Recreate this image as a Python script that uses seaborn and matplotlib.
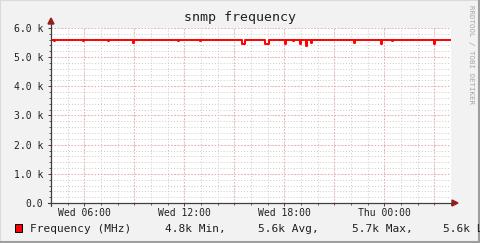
import matplotlib
matplotlib.use("Agg")
import matplotlib.pyplot as plt
from matplotlib.lines import Line2D
from matplotlib.patches import Polygon, Rectangle
import numpy as np
import pandas as pd
import seaborn as sns

# ---------------- data ----------------
title = "snmp frequency"
series_label = "Frequency (MHz)"
base_value = 5580.0                      # normal level (MHz)
# dips: start hour (from Wed 04:00), end hour, value during dip
dip_start = [0.19, 1.93, 3.42, 4.90, 7.60, 8.93, 11.45, 12.84, 14.04, 14.49, 14.94, 15.30, 15.60, 18.16, 19.78, 20.49, 22.96]
dip_end   = [0.23, 1.97, 3.50, 5.00, 7.68, 8.97, 11.62, 13.06, 14.12, 14.55, 15.02, 15.38, 15.68, 18.24, 19.86, 20.55, 23.04]
dip_value = [5550, 5550, 5545, 5480, 5545, 5555, 5450, 5445, 5445, 5555, 5445, 5390, 5480, 5480, 5445, 5555, 5445]
y_ticks = [0, 1000, 2000, 3000, 4000, 5000, 6000]
y_tick_labels = ["0.0", "1.0 k", "2.0 k", "3.0 k", "4.0 k", "5.0 k", "6.0 k"]
x_ticks = [2, 8, 14, 20]                 # hours from Wed 04:00
x_tick_labels = ["Wed 06:00", "Wed 12:00", "Wed 18:00", "Thu 00:00"]
stats_text = ["4.8k Min,", "5.6k Avg,", "5.7k Max,", "5.6k Last"]
total_hours = 24.0

# build step series from listed breakpoints
t = [0.0]
v = [base_value]
for s, e, d in zip(dip_start, dip_end, dip_value):
    t += [s, e]
    v += [d, base_value]
t.append(total_hours)
v.append(base_value)
df = pd.DataFrame({"hour": t, "value": v})

# ---------------- figure ----------------
W, H = 481, 243
BACK = "#F2F2F2"
fig = plt.figure(figsize=(W / 100, H / 100), dpi=100, facecolor=BACK)
sns.set_style("white")
MONO = ["DejaVu Sans Mono"]

def fx(x):
    return x / W

def fy(y):
    return 1 - y / H

L, R, T, B = 51, 451, 28, 203
ax = fig.add_axes([fx(L), fy(B), (R - L) / W, (B - T) / H])
ax.set_facecolor("white")

# grid
minor_col = "#CACACA"
major_col = "#F2A6A6"
dot = (0, (1, 2))
for h in np.arange(1, 24):
    ax.axvline(h, color=minor_col, lw=0.7, ls=dot, zorder=0)
for yy in np.arange(200, 6001, 200):
    ax.axhline(yy, color=minor_col, lw=0.7, ls=dot, zorder=0)
for h in np.arange(2, 24, 3):
    ax.axvline(h, color=major_col, lw=0.8, ls=dot, zorder=1)
for yy in y_ticks[1:]:
    ax.axhline(yy, color=major_col, lw=0.8, ls=dot, zorder=1)

sns.lineplot(data=df, x="hour", y="value", ax=ax, estimator=None, sort=False,
             drawstyle="steps-post", color="#FF0000", lw=1.4, zorder=3, legend=False)

ax.set_xlim(0, total_hours)
ax.set_ylim(0, 6000)
for s in ax.spines.values():
    s.set_visible(False)
ax.set_xlabel("")
ax.set_ylabel("")
ax.set_yticks(y_ticks)
ax.set_yticklabels(y_tick_labels, family=MONO, fontsize=7, color="#202020")
ax.set_xticks(x_ticks)
ax.set_xticklabels(x_tick_labels, family=MONO, fontsize=7, color="#202020")
ax.set_yticks(np.arange(0, 6001, 200), minor=True)
ax.set_xticks(np.arange(0, 24.01, 1), minor=True)
ax.tick_params(axis="y", which="major", length=2.2, width=0.7, color="#404040", pad=3.2, left=True)
ax.tick_params(axis="y", which="minor", length=1.5, width=0.6, color="#404040", left=True)
ax.tick_params(axis="x", which="major", length=2.2, width=0.7, color="#404040", pad=1.5, bottom=True)
ax.tick_params(axis="x", which="minor", length=1.5, width=0.6, color="#404040", bottom=True)

# axes with arrows (figure pixel coords)
axis_col = "#404040"
arrow_col = "#A01818"
fig.add_artist(Line2D([fx(L), fx(L)], [fy(B + 3), fy(23)], color=axis_col, lw=0.9))
fig.add_artist(Line2D([fx(L - 3), fx(454)], [fy(B), fy(B)], color=axis_col, lw=0.9))
fig.add_artist(Polygon([[fx(L - 3), fy(24)], [fx(L + 3), fy(24)], [fx(L), fy(18)]],
                       closed=True, color=arrow_col, transform=fig.transFigure))
fig.add_artist(Polygon([[fx(452), fy(B - 3)], [fx(452), fy(B + 3)], [fx(458), fy(B)]],
                       closed=True, color=arrow_col, transform=fig.transFigure))

# title
fig.text(fx(240), fy(18), title, ha="center", va="center", family=MONO,
         fontsize=9.5, color="#202020")

# watermark
fig.text(fx(471), fy(5), "RRDTOOL / TOBI OETIKER", rotation=270, ha="center", va="top",
         family=MONO, fontsize=5.4, color="#A8A8A8")

# legend
fig.add_artist(Rectangle((fx(15), fy(231.5)), 7.5 / W, 7.5 / H, facecolor="#FF0000",
                         edgecolor="black", lw=0.7, transform=fig.transFigure))
fig.text(fx(30.5), fy(228.5), series_label, ha="left", va="center", family=MONO,
         fontsize=8, color="#202020")
for xpos, txt in zip([165, 258.3, 351.7, 443.3], stats_text):
    fig.text(fx(xpos), fy(228.5), txt, ha="left", va="center", family=MONO,
             fontsize=8, color="#202020")

# frame
fig.add_artist(Line2D([0, 0], [0, 1], color="#DADADA", lw=1.5))
fig.add_artist(Line2D([0, 1], [1, 1], color="#DADADA", lw=1.5))
fig.add_artist(Line2D([fx(479.5), fx(479.5)], [0, 1], color="#9E9E9E", lw=1.5))
fig.add_artist(Line2D([0, 1], [fy(241.5), fy(241.5)], color="#9E9E9E", lw=1.5))

fig.savefig("out.png", dpi=100, facecolor=BACK)
